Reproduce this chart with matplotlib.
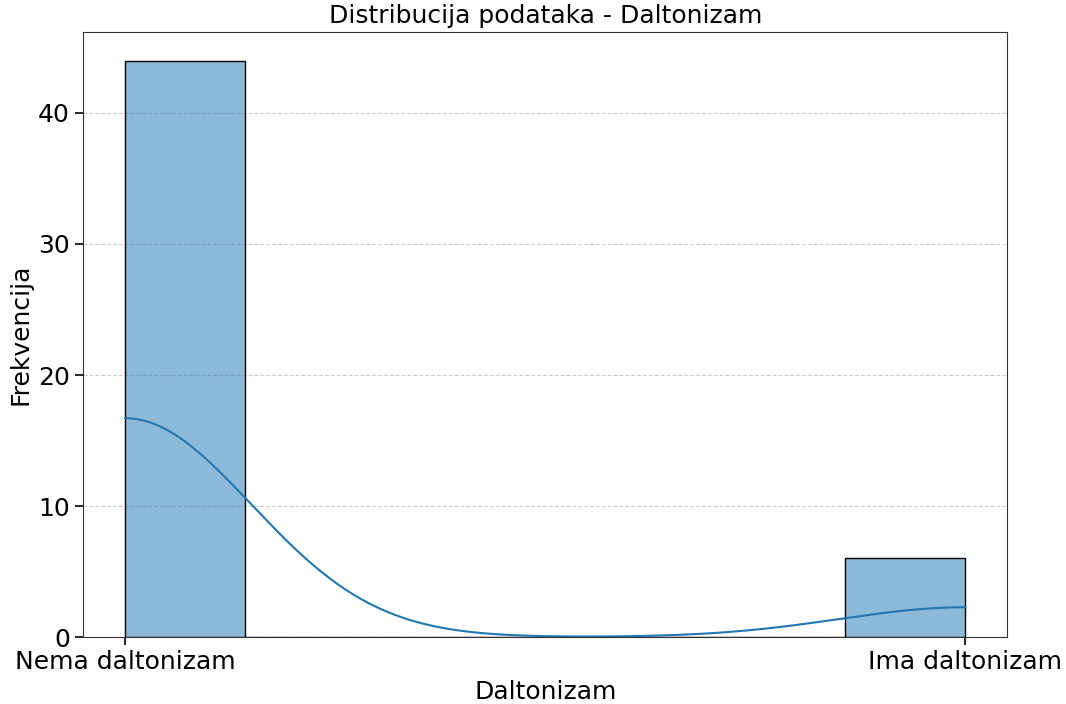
import numpy as np
import matplotlib
matplotlib.use("Agg")
import matplotlib.pyplot as plt
import seaborn as sns

# kategorije i broj ispitanika (0 = nema, 1 = ima)
kategorije = ["Nema daltonizam", "Ima daltonizam"]
vrijednosti = [0, 1]
frekvencije = [44, 6]

podaci = np.repeat(vrijednosti, frekvencije)

fig, ax = plt.subplots(figsize=(10.66, 7.04), dpi=100)
fig.subplots_adjust(left=0.078, right=0.945, bottom=0.095, top=0.955)

sns.histplot(podaci, bins=7, kde=True, ax=ax, color="#1f77b4",
             edgecolor="black", alpha=0.5, line_kws={"linewidth": 1.5})

ax.set_title("Distribucija podataka - Daltonizam", fontsize=18)
ax.set_xlabel("Daltonizam", fontsize=18)
ax.set_ylabel("Frekvencija", fontsize=18)
ax.set_xticks(vrijednosti)
ax.set_xticklabels(kategorije)
ax.tick_params(axis="both", labelsize=18, length=6, width=1.2)
ax.grid(axis="y", linestyle="--", alpha=0.6)
ax.set_axisbelow(True)
for s in ax.spines.values():
    s.set_color("#333333")

fig.savefig("out.png", dpi=100)
